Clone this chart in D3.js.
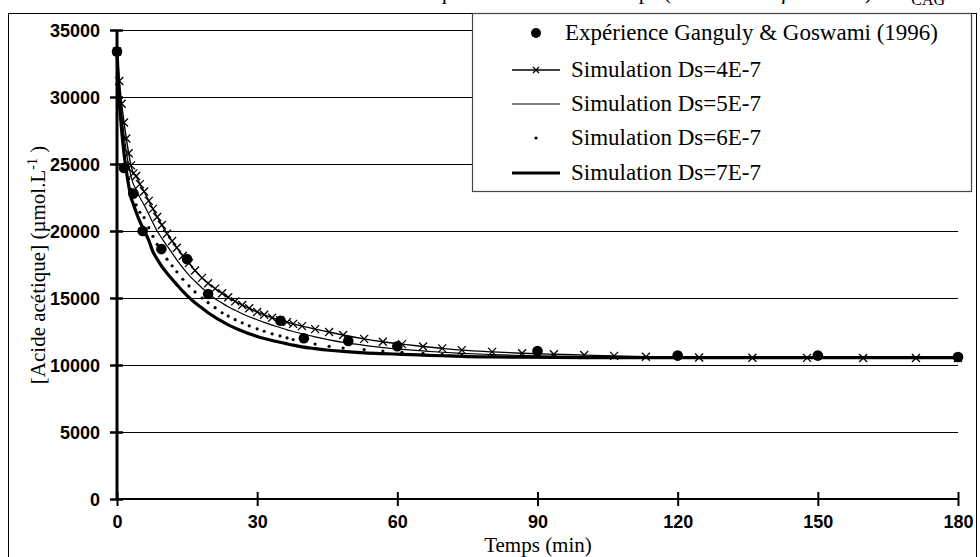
<!DOCTYPE html>
<html>
<head>
<meta http-equiv="Content-Type" content="text/html; charset=utf-8">
<script src="https://cdnjs.cloudflare.com/ajax/libs/d3/7.8.5/d3.min.js"></script>
<style>
  body { margin: 0; background: #fff; }
  svg { display: block; }
  .tick text { font-family: "Liberation Sans", Arial, sans-serif; font-weight: bold; font-size: 18px; fill: #000; }
  text.serif { font-family: "Liberation Serif", "Times New Roman", serif; fill: #000; }
</style>
</head>
<body>
<div class="chart"></div>
<script type="text/javascript">

// ---------------------------------------------- DATA

// experimental points (Ganguly & Goswami 1996)
var expTime = [0, 1.5, 3.5, 5.5, 9.5, 15, 19.5, 35, 40, 49.5, 60, 90, 120, 150, 180];
var expValue = [33400, 24700, 22800, 20000, 18650, 17900, 15300, 13300, 12000, 11800, 11400, 11050, 10700, 10700, 10600];

// time grid of the simulations (min)
var simTime = [0, 0.5, 1, 1.5, 2, 2.5, 3, 3.5, 4.1, 4.9, 5.8, 6.8, 7.7, 8.6, 9.6, 10.7, 11.8, 12.8, 14.1, 15.4,
  16.7, 18.2, 19.5, 21, 22.5, 23.8, 25.3, 26.8, 28.3, 30, 31.5, 33.2, 34.9, 36.4, 37.7, 39.6, 42.4, 45.4, 48.4,
  52.9, 56.9, 61, 65.5, 69.6, 73.8, 80.3, 86.7, 93.5, 100, 106.4, 113.2, 124.6, 136, 147.7, 159.7, 171, 180];

var sim4 = [33400, 31200, 29500, 28100, 26900, 25800, 24900, 24300, 24100, 23500, 22950, 22250, 21650, 21050, 20450,
  19800, 19250, 18750, 18150, 17600, 17050, 16500, 16100, 15700, 15350, 15050, 14750, 14480, 14230, 13960, 13750,
  13530, 13350, 13200, 13070, 12900, 12680, 12460, 12240, 11950, 11740, 11560, 11380, 11240, 11110, 10980, 10880,
  10800, 10740, 10680, 10620, 10560, 10540, 10530, 10520, 10520, 10520];

var sim5 = [33400, 30700, 28800, 27200, 25900, 24900, 24100, 23500, 23100, 22500, 21950, 21250, 20600, 20000, 19450,
  18900, 18350, 17850, 17250, 16700, 16250, 15750, 15350, 14950, 14620, 14350, 14080, 13830, 13600, 13380, 13180,
  12980, 12800, 12620, 12500, 12330, 12100, 11880, 11690, 11470, 11300, 11170, 11050, 10950, 10870, 10780, 10710,
  10660, 10620, 10590, 10570, 10550, 10540, 10530, 10530, 10530, 10530];

var sim6 = [33400, 30200, 28100, 26400, 25000, 23900, 23100, 22500, 21950, 21400, 21000, 20250, 19600, 19000, 18450,
  17900, 17400, 16950, 16400, 15900, 15450, 15000, 14650, 14280, 13900, 13650, 13380, 13150, 12920, 12700, 12520,
  12330, 12170, 12020, 11900, 11760, 11560, 11390, 11270, 11150, 11040, 10950, 10870, 10800, 10740, 10680, 10630,
  10600, 10580, 10570, 10560, 10550, 10540, 10540, 10540, 10540, 10540];

var sim7 = [33400, 29800, 27500, 25800, 24500, 23400, 22500, 22000, 21400, 20700, 20050, 19300, 18450, 17900, 17350,
  16850, 16400, 16000, 15500, 15050, 14650, 14250, 13900, 13560, 13250, 13000, 12750, 12530, 12330, 12130, 11980,
  11830, 11700, 11580, 11480, 11350, 11220, 11100, 11010, 10910, 10850, 10800, 10740, 10690, 10640, 10600, 10580,
  10560, 10550, 10550, 10550, 10550, 10550, 10550, 10550, 10550, 10550];

var xTicks = [0, 30, 60, 90, 120, 150, 180];
var yTicks = [0, 5000, 10000, 15000, 20000, 25000, 30000, 35000];

var legendLabels = ["Expérience Ganguly & Goswami (1996)", "Simulation Ds=4E-7", "Simulation Ds=5E-7",
  "Simulation Ds=6E-7", "Simulation Ds=7E-7"];

// ---------------------------------------------- SVG

var width = 980;
var height = 557;
var serif = "'Liberation Serif', 'Times New Roman', serif";

var svg = d3.select("div.chart")
  .append("svg")
  .attr("width", width)
  .attr("height", height);

// outer frame of the chart
svg.append("rect")
  .attr("x", 8.5).attr("y", 13.5)
  .attr("width", 968).attr("height", 560)
  .attr("fill", "none").attr("stroke", "#000").attr("stroke-width", 1);

// title, cut off by the top of the picture (only descenders and the subscript show)
var title = svg.append("text")
  .attr("class", "serif")
  .attr("font-family", serif)
  .attr("x", 945).attr("y", -1)
  .attr("text-anchor", "end")
  .attr("font-size", 22);
title.append("tspan").text("Concentration en acide acétique en fonction du temps (C0 = 33400 µmol.L-1) – m");
title.append("tspan").attr("dy", 6).attr("font-size", 16).text("CAG");

var x = d3.scaleLinear().domain([0, 180]).range([117, 958]);
var y = d3.scaleLinear().domain([0, 35000]).range([499, 30]);

// ---------------------------------------------- GRID

svg.append("g")
  .selectAll("line")
  .data(yTicks.filter(function(d){ return d > 0; }))
  .enter()
  .append("line")
  .attr("x1", x(0)).attr("x2", x(180))
  .attr("y1", function(d){ return y(d) + 0.5; })
  .attr("y2", function(d){ return y(d) + 0.5; })
  .attr("stroke", "#000").attr("stroke-width", 1);

// ---------------------------------------------- AXES

var yAxis = svg.append("g")
  .attr("transform", "translate(" + x(0) + ",0)")
  .call(d3.axisLeft(y).tickValues(yTicks).tickSize(7).tickPadding(10).tickFormat(d3.format("d")));
yAxis.select(".domain").attr("stroke-width", 3).attr("d", "M0," + y(35000) + "V" + y(0));
yAxis.selectAll(".tick line").attr("x1", 6).attr("stroke-width", 2.5);
yAxis.selectAll(".tick text").attr("dy", "0.36em");

var xAxis = svg.append("g")
  .attr("transform", "translate(0," + y(0) + ")")
  .call(d3.axisBottom(x).tickValues(xTicks).tickSize(7).tickPadding(9));
xAxis.select(".domain").attr("stroke-width", 2).attr("d", "M" + x(0) + ",0H" + x(180));
xAxis.selectAll(".tick line").attr("y1", -7).attr("stroke-width", 2);

// axis titles
svg.append("text")
  .attr("class", "serif")
  .attr("font-family", serif)
  .attr("x", 538).attr("y", 552)
  .attr("text-anchor", "middle")
  .attr("font-size", 21)
  .text("Temps (min)");

var ylab = svg.append("text")
  .attr("class", "serif")
  .attr("font-family", serif)
  .attr("transform", "translate(45,265) rotate(-90)")
  .attr("text-anchor", "middle")
  .attr("font-size", 21);
ylab.append("tspan").text("[Acide acétique] (µmol.L");
ylab.append("tspan").attr("dy", -8).attr("font-size", 14).text("-1");
ylab.append("tspan").attr("dy", 8).text(" )");

// ---------------------------------------------- CURVES

var plot = svg.append("g");

function simPoints(vals) {
  return simTime.map(function(t, i){ return [t, vals[i]]; });
}

var line = d3.line()
  .x(function(d){ return x(d[0]); })
  .y(function(d){ return y(d[1]); })
  .curve(d3.curveMonotoneX);

// Ds = 7E-7, thick line
plot.append("path")
  .attr("d", line(simPoints(sim7)))
  .attr("fill", "none").attr("stroke", "#000").attr("stroke-width", 3.2);

// Ds = 6E-7, small dots only
plot.append("g")
  .selectAll("circle")
  .data(simPoints(sim6))
  .enter()
  .append("circle")
  .attr("cx", function(d){ return x(d[0]); })
  .attr("cy", function(d){ return y(d[1]); })
  .attr("r", 1.6)
  .attr("fill", "#000");

// Ds = 5E-7, thin line
plot.append("path")
  .attr("d", line(simPoints(sim5)))
  .attr("fill", "none").attr("stroke", "#000").attr("stroke-width", 1.2);

// Ds = 4E-7, line with x markers
plot.append("path")
  .attr("d", line(simPoints(sim4)))
  .attr("fill", "none").attr("stroke", "#000").attr("stroke-width", 1.4);

function cross(sel, s) {
  sel.append("path")
    .attr("d", "M" + (-s) + "," + (-s) + "L" + s + "," + s + "M" + (-s) + "," + s + "L" + s + "," + (-s))
    .attr("stroke", "#000").attr("stroke-width", 1.3).attr("fill", "none");
}

plot.append("g")
  .selectAll("g")
  .data(simPoints(sim4))
  .enter()
  .append("g")
  .attr("transform", function(d){ return "translate(" + x(d[0]) + "," + y(d[1]) + ")"; })
  .call(cross, 4);

// experimental points
plot.append("g")
  .selectAll("circle")
  .data(expTime.map(function(t, i){ return [t, expValue[i]]; }))
  .enter()
  .append("circle")
  .attr("cx", function(d){ return x(d[0]); })
  .attr("cy", function(d){ return y(d[1]); })
  .attr("r", 5.3)
  .attr("fill", "#000");

// ---------------------------------------------- LEGEND

var legend = svg.append("g");

legend.append("rect")
  .attr("x", 472.5).attr("y", 13.5)
  .attr("width", 499).attr("height", 178)
  .attr("fill", "#fff").attr("stroke", "#444").attr("stroke-width", 1.2);

var rowY = [33, 70, 104, 138, 173];
var symX = 536;

legendLabels.forEach(function(label, i) {
  legend.append("text")
    .attr("class", "serif")
    .attr("font-family", serif)
    .attr("x", i === 0 ? 565 : 571)
    .attr("y", rowY[i] + 7)
    .attr("font-size", 23)
    .text(label);
});

legend.append("circle").attr("cx", symX).attr("cy", rowY[0]).attr("r", 5).attr("fill", "#000");

legend.append("line").attr("x1", 512).attr("x2", 560).attr("y1", rowY[1]).attr("y2", rowY[1])
  .attr("stroke", "#000").attr("stroke-width", 1.4);
legend.append("g").attr("transform", "translate(" + symX + "," + rowY[1] + ")").call(cross, 3);

legend.append("line").attr("x1", 512).attr("x2", 560).attr("y1", rowY[2]).attr("y2", rowY[2])
  .attr("stroke", "#000").attr("stroke-width", 1.2);

legend.append("circle").attr("cx", symX).attr("cy", rowY[3]).attr("r", 1.6).attr("fill", "#000");

legend.append("line").attr("x1", 512).attr("x2", 560).attr("y1", rowY[4]).attr("y2", rowY[4])
  .attr("stroke", "#000").attr("stroke-width", 3.2);

</script>
</body>
</html>
